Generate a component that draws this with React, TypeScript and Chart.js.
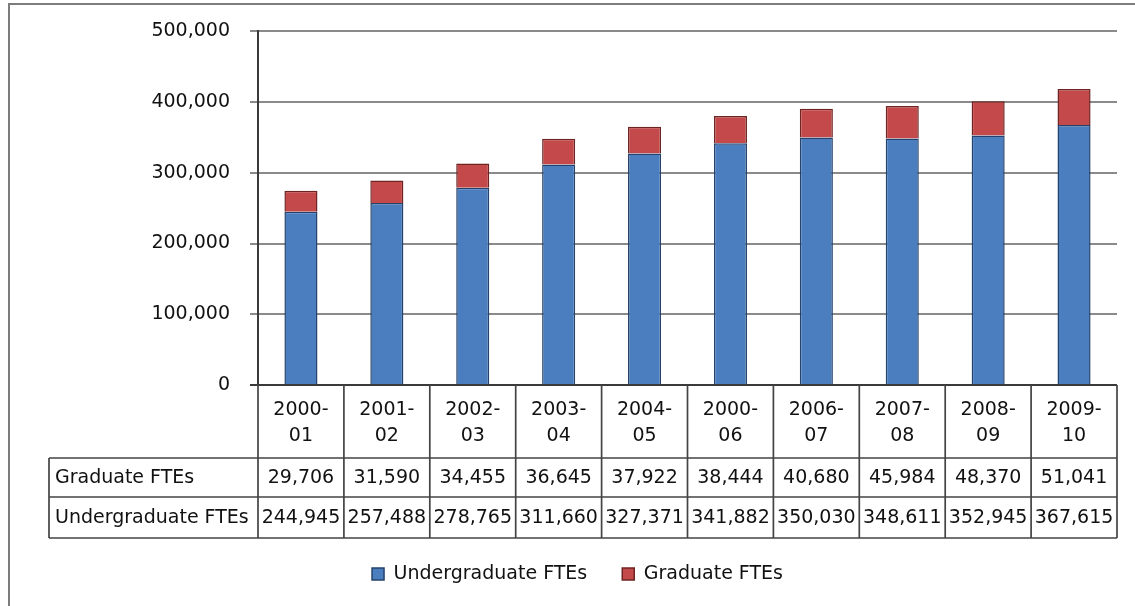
import React, { useEffect, useRef } from "react";
import { Chart, registerables } from "chart.js";

Chart.register(...registerables);

const yearStart = ["2000-", "2001-", "2002-", "2003-", "2004-", "2000-", "2006-", "2007-", "2008-", "2009-"];
const yearEnd = ["01", "02", "03", "04", "05", "06", "07", "08", "09", "10"];
const undergraduateFTEs = [244945, 257488, 278765, 311660, 327371, 341882, 350030, 348611, 352945, 367615];
const graduateFTEs = [29706, 31590, 34455, 36645, 37922, 38444, 40680, 45984, 48370, 51041];
const yTicks = [0, 100000, 200000, 300000, 400000, 500000];
const seriesNames = ["Undergraduate FTEs", "Graduate FTEs"];

const FONT = "'DejaVu Sans', Verdana, sans-serif";
const FONT_SIZE = 19;
const TEXT_COLOR = "#111111";

const fmt = (v: number) => v.toLocaleString("en-US");

const tablePlugin = {
  id: "dataTable",
  beforeDraw(chart: any) {
    const ctx = chart.ctx;
    ctx.save();
    ctx.fillStyle = "#ffffff";
    ctx.fillRect(0, 0, chart.width, chart.height);
    ctx.strokeStyle = "#7c7c7c";
    ctx.lineWidth = 2;
    ctx.strokeRect(9, 4, chart.width + 20, chart.height + 20);
    ctx.restore();
  },
  afterDraw(chart: any) {
    const ctx = chart.ctx;
    const xs = chart.scales.x;
    const area = chart.chartArea;
    const n = yearStart.length;
    const step = (xs.right - xs.left) / n;
    const top = area.bottom;
    const headerBottom = top + 73;
    const row1Bottom = headerBottom + 39;
    const row2Bottom = row1Bottom + 41;
    const tableLeft = 49;

    ctx.save();
    ctx.strokeStyle = "#444444";
    ctx.lineWidth = 1.7;
    ctx.beginPath();
    for (let i = 0; i <= n; i++) {
      const x = xs.left + i * step;
      ctx.moveTo(x, top);
      ctx.lineTo(x, row2Bottom);
    }
    [headerBottom, row1Bottom, row2Bottom].forEach((y) => {
      ctx.moveTo(tableLeft, y);
      ctx.lineTo(xs.right, y);
    });
    ctx.moveTo(tableLeft, headerBottom);
    ctx.lineTo(tableLeft, row2Bottom);
    ctx.stroke();

    ctx.fillStyle = TEXT_COLOR;
    ctx.font = `${FONT_SIZE}px ${FONT}`;
    ctx.textBaseline = "middle";
    ctx.textAlign = "center";
    for (let i = 0; i < n; i++) {
      const cx = xs.getPixelForValue(i);
      ctx.fillText(yearStart[i], cx, top + 25);
      ctx.fillText(yearEnd[i], cx, top + 51);
      ctx.fillText(fmt(graduateFTEs[i]), cx, headerBottom + 20);
      ctx.fillText(fmt(undergraduateFTEs[i]), cx, row1Bottom + 21);
    }
    ctx.textAlign = "left";
    ctx.fillText(seriesNames[1], tableLeft + 6, headerBottom + 20);
    ctx.fillText(seriesNames[0], tableLeft + 6, row1Bottom + 21);
    ctx.restore();
  },
};

export default function App() {
  const canvasRef = useRef<HTMLCanvasElement | null>(null);

  useEffect(() => {
    if (!canvasRef.current) return;
    const chart = new Chart(canvasRef.current, {
      type: "bar",
      data: {
        labels: yearStart.map((s, i) => [s, yearEnd[i]]),
        datasets: [
          {
            label: seriesNames[0],
            data: undergraduateFTEs,
            backgroundColor: "#4a7ebf",
            borderColor: "#24426b",
            borderWidth: 1.5,
            barPercentage: 0.385,
            categoryPercentage: 1,
          },
          {
            label: seriesNames[1],
            data: graduateFTEs,
            backgroundColor: "#c4494a",
            borderColor: "#6e2423",
            borderWidth: 1.5,
            barPercentage: 0.385,
            categoryPercentage: 1,
          },
        ],
      },
      options: {
        animation: false,
        responsive: false,
        devicePixelRatio: 1,
        layout: { padding: { left: 38, right: 18, top: 28, bottom: 12.5 } },
        scales: {
          x: {
            stacked: true,
            grid: { display: false },
            border: { display: false },
            ticks: { display: false },
            afterFit: (s: any) => {
              s.height = 144.5;
            },
          },
          y: {
            stacked: true,
            min: yTicks[0],
            max: yTicks[yTicks.length - 1],
            afterBuildTicks: (s: any) => {
              s.ticks = yTicks.map((v) => ({ value: v }));
            },
            ticks: {
              callback: (v: any) => fmt(Number(v)),
              font: { family: FONT, size: FONT_SIZE },
              color: TEXT_COLOR,
              padding: 20,
            },
            grid: {
              color: (c: any) => (c.tick && c.tick.value === 0 ? "#3a3a3a" : "#8a8a8a"),
              lineWidth: 2,
              tickLength: 8,
              drawTicks: true,
            },
            border: { display: true, color: "#3a3a3a", width: 2 },
            afterFit: (s: any) => {
              s.width = 220;
            },
          },
        },
        plugins: {
          legend: {
            position: "bottom",
            labels: {
              boxWidth: 12,
              boxHeight: 12,
              padding: 35,
              font: { family: FONT, size: FONT_SIZE },
              color: TEXT_COLOR,
            },
          },
          tooltip: { enabled: false },
        },
      },
      plugins: [tablePlugin],
    } as any);
    return () => chart.destroy();
  }, []);

  return (
    <div style={{ position: "fixed", left: 0, top: 0, width: 1135, height: 606, background: "#fff" }}>
      <canvas ref={canvasRef} width={1135} height={606} style={{ display: "block" }} />
    </div>
  );
}
